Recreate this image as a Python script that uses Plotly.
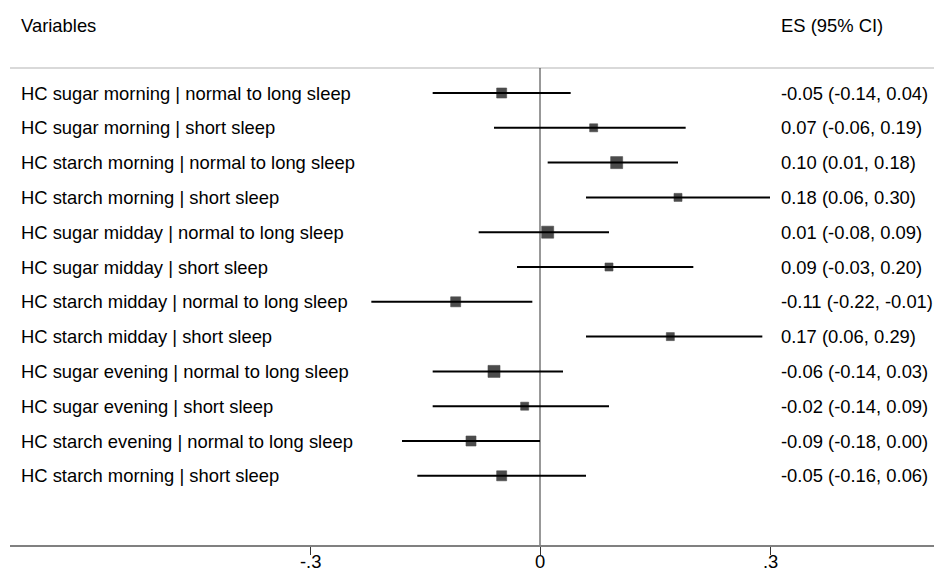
import plotly.graph_objects as go

variables = [
    "HC sugar morning | normal to long sleep",
    "HC sugar morning | short sleep",
    "HC starch morning | normal to long sleep",
    "HC starch morning | short sleep",
    "HC sugar midday | normal to long sleep",
    "HC sugar midday | short sleep",
    "HC starch midday | normal to long sleep",
    "HC starch midday | short sleep",
    "HC sugar evening | normal to long sleep",
    "HC sugar evening | short sleep",
    "HC starch evening | normal to long sleep",
    "HC starch morning | short sleep",
]
es = [-0.05, 0.07, 0.10, 0.18, 0.01, 0.09, -0.11, 0.17, -0.06, -0.02, -0.09, -0.05]
ci_low = [-0.14, -0.06, 0.01, 0.06, -0.08, -0.03, -0.22, 0.06, -0.14, -0.14, -0.18, -0.16]
ci_high = [0.04, 0.19, 0.18, 0.30, 0.09, 0.20, -0.01, 0.29, 0.03, 0.09, 0.00, 0.06]
weight_sizes = [10, 8, 12, 8, 12, 8, 10, 8, 12, 8, 10, 10]
tick_vals = [-0.3, 0, 0.3]
tick_text = ["-.3", "0", ".3"]

W, H = 934, 574
ML, MR, MT, MB = 10, 0, 0, 29
X0_PX, PX_PER_UNIT = 540, 766.67
ROW0_PX, ROW_STEP = 93, 34.8

x_range = [(ML - X0_PX) / PX_PER_UNIT, (W - MR - X0_PX) / PX_PER_UNIT]
y_bottom = (H - MB - ROW0_PX) / ROW_STEP
y_top = (MT - ROW0_PX) / ROW_STEP
header_line_y = (68 - ROW0_PX) / ROW_STEP
header_y = (25 - ROW0_PX) / ROW_STEP

def px_to_paper(px):
    return (px - ML) / (W - ML - MR)

rows = list(range(len(variables)))

fig = go.Figure()
fig.add_trace(go.Scatter(
    x=es, y=rows, mode="markers",
    marker=dict(symbol="square", size=weight_sizes, color="black",
                line=dict(width=0.6, color="black")),
    error_x=dict(type="data", symmetric=False,
                 array=[h - e for h, e in zip(ci_high, es)],
                 arrayminus=[e - l for e, l in zip(es, ci_low)],
                 color="black", thickness=2, width=0),
    showlegend=False, hoverinfo="skip",
))

font = dict(family="Liberation Sans, Arial, sans-serif", size=18.4, color="black")
ann = []
for i, (v, e, l, h) in enumerate(zip(variables, es, ci_low, ci_high)):
    ann.append(dict(x=px_to_paper(20), xref="paper", y=i, yref="y", text=v,
                    showarrow=False, xanchor="left", yanchor="middle", font=font,
                    xshift=-1))
    ann.append(dict(x=px_to_paper(780), xref="paper", y=i, yref="y",
                    text=f"{e:.2f} ({l:.2f}, {h:.2f})",
                    showarrow=False, xanchor="left", yanchor="middle", font=font,
                    xshift=-1))
ann.append(dict(x=px_to_paper(20), xref="paper", y=header_y, yref="y", text="Variables",
                showarrow=False, xanchor="left", yanchor="middle", font=font, xshift=-1))
ann.append(dict(x=px_to_paper(780), xref="paper", y=header_y, yref="y", text="ES (95% CI)",
                showarrow=False, xanchor="left", yanchor="middle", font=font, xshift=-1))

# x tick labels as annotations so they sit fully inside the figure
tick_label_y = -MB / (H - MT - MB)
for tv, tt in zip(tick_vals, tick_text):
    ann.append(dict(x=tv, xref="x", y=tick_label_y, yref="paper", text=tt,
                    showarrow=False, xanchor="center", yanchor="bottom", font=font,
                    borderpad=0, yshift=1))

shapes = [
    dict(type="line", xref="paper", x0=0, x1=1, yref="y", y0=header_line_y, y1=header_line_y,
         line=dict(color="#d9d9d9", width=2), layer="below"),
    dict(type="line", xref="x", x0=0, x1=0, yref="y", y0=header_line_y, y1=y_bottom,
         line=dict(color="#333333", width=1), layer="below"),
]

fig.update_layout(
    width=W, height=H, margin=dict(l=ML, r=MR, t=MT, b=MB),
    paper_bgcolor="white", plot_bgcolor="white",
    annotations=ann, shapes=shapes,
    xaxis=dict(range=x_range, tickvals=tick_vals, ticktext=tick_text, showticklabels=False,
               showgrid=False, zeroline=False, showline=True, linecolor="#808080",
               linewidth=2, ticks="outside", ticklen=8, tickcolor="#333333", tickwidth=1,
               automargin=False),
    yaxis=dict(range=[y_bottom, y_top], showgrid=False, zeroline=False,
               showticklabels=False, showline=False, automargin=False),
)

fig.write_html("out.html", config={"displayModeBar": False},
               post_script="document.body.style.margin='0';")
